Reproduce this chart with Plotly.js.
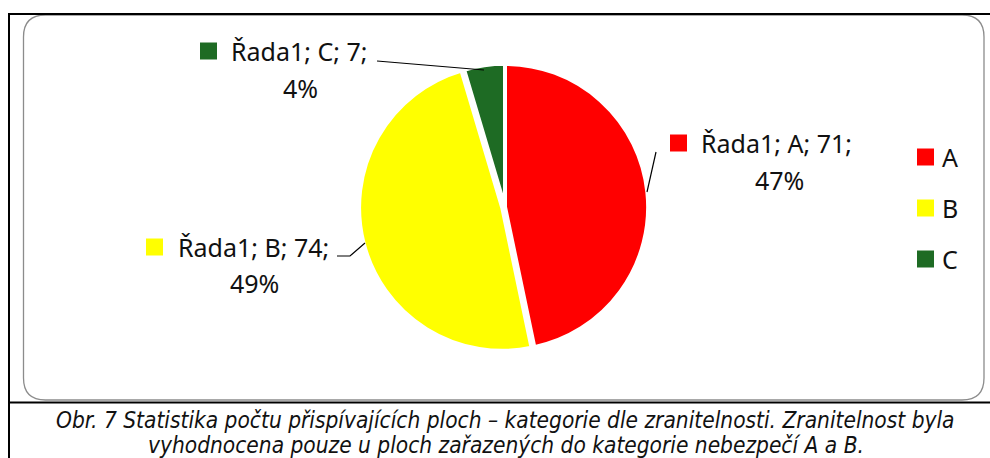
<!DOCTYPE html>
<html>
<head>
<meta charset="utf-8">
<script src="https://cdn.plot.ly/plotly-3.0.1.min.js"></script>
<style>html,body{margin:0;padding:0;background:#fff;}#chart{width:990px;height:458px;}</style>
</head>
<body>
<div id="chart"></div>
<script>
// ---- data ----
const seriesName = 'Řada1';
const categories = ['A', 'B', 'C'];
const values = [71, 74, 7];
const percentLabels = ['47%', '49%', '4%'];
const sliceColors = ['#FF0000', '#FFFF00', '#1E6B24'];
const captionLines = [
  'Obr. 7 Statistika počtu přispívajících ploch – kategorie dle zranitelnosti. Zranitelnost byla',
  'vyhodnocena pouze u ploch zařazených do kategorie nebezpečí A a B.'
];

// ---- layout helpers (pixel -> paper) ----
const W = 990, H = 458;
const px = x => x / W;
const py = y => 1 - y / H;

const labelFont = {family: '"Noto Sans", "Open Sans", sans-serif', size: 25, color: '#111'};
const captionFont = {family: '"Liberation Sans Narrow", "DejaVu Sans Condensed", "Roboto Condensed", "Liberation Sans", sans-serif', size: 22.5, color: '#111'};

// label placement (pixel positions of the data-label boxes)
const labelPos = [
  {sq: 670, text: 699, y1: 143, y2: 180, cx: 779},  // A
  {sq: 146, text: 176, y1: 247, y2: 283, cx: 254},  // B
  {sq: 200, text: 229, y1: 51,  y2: 88,  cx: 300}   // C
];
const legendPos = {sq: 917, text: 940, y: [157, 208, 259]};

const annotations = [];
const shapes = [];

categories.forEach((c, i) => {
  const p = labelPos[i];
  annotations.push({xref: 'paper', yref: 'paper', x: px(p.text), y: py(p.y1), xanchor: 'left', yanchor: 'middle',
    text: seriesName + '; ' + c + '; ' + values[i] + ';', showarrow: false, font: labelFont});
  annotations.push({xref: 'paper', yref: 'paper', x: px(p.cx), y: py(p.y2), xanchor: 'center', yanchor: 'middle',
    text: percentLabels[i], showarrow: false, font: labelFont});
  shapes.push({type: 'rect', xref: 'paper', yref: 'paper', x0: px(p.sq), x1: px(p.sq + 17), y0: py(p.y1 - 8.5), y1: py(p.y1 + 8.5),
    fillcolor: sliceColors[i], line: {width: 0}});
  // legend
  const ly = legendPos.y[i];
  shapes.push({type: 'rect', xref: 'paper', yref: 'paper', x0: px(legendPos.sq), x1: px(legendPos.sq + 17), y0: py(ly - 8.5), y1: py(ly + 8.5),
    fillcolor: sliceColors[i], line: {width: 0}});
  annotations.push({xref: 'paper', yref: 'paper', x: px(legendPos.text), y: py(ly), xanchor: 'left', yanchor: 'middle',
    text: c, showarrow: false, font: labelFont});
});

// leader lines
const leader = (pts) => {
  let d = 'M ' + px(pts[0][0]) + ',' + py(pts[0][1]);
  for (let k = 1; k < pts.length; k++) d += ' L ' + px(pts[k][0]) + ',' + py(pts[k][1]);
  shapes.push({type: 'path', xref: 'paper', yref: 'paper', path: d, line: {color: '#000', width: 1.2}});
};
leader([[656, 152], [647, 192]]);
leader([[337, 256], [350, 256], [365, 243]]);
leader([[377, 61], [484, 70]]);

// rounded chart-area frame
(function () {
  const x0 = 23.5, x1 = 984, y0 = 15, y1 = 400, r = 22;
  const P = (x, y) => px(x) + ',' + py(y);
  const d = 'M ' + P(x0 + r, y0) + ' L ' + P(x1 - r, y0) + ' Q ' + P(x1, y0) + ' ' + P(x1, y0 + r) +
    ' L ' + P(x1, y1 - r) + ' Q ' + P(x1, y1) + ' ' + P(x1 - r, y1) +
    ' L ' + P(x0 + r, y1) + ' Q ' + P(x0, y1) + ' ' + P(x0, y1 - r) +
    ' L ' + P(x0, y0 + r) + ' Q ' + P(x0, y0) + ' ' + P(x0 + r, y0) + ' Z';
  shapes.push({type: 'path', xref: 'paper', yref: 'paper', path: d, line: {color: '#8C8C8C', width: 1.3}, layer: 'below'});
})();

// outer black frame
shapes.push({type: 'line', xref: 'paper', yref: 'paper', x0: px(9), x1: px(9), y0: py(13), y1: py(458), line: {color: '#000', width: 2}});
shapes.push({type: 'line', xref: 'paper', yref: 'paper', x0: px(8), x1: px(990), y0: py(14), y1: py(14), line: {color: '#000', width: 2}});
shapes.push({type: 'line', xref: 'paper', yref: 'paper', x0: px(8), x1: px(990), y0: py(402.5), y1: py(402.5), line: {color: '#000', width: 2}});

// caption
captionLines.forEach((t, i) => {
  annotations.push({xref: 'paper', yref: 'paper', x: px(506), y: py(i === 0 ? 420 : 445), xanchor: 'center', yanchor: 'middle',
    text: '<i>' + t + '</i>', showarrow: false, font: captionFont});
});

const trace = {
  type: 'pie',
  labels: categories,
  values: values,
  sort: false,
  direction: 'clockwise',
  rotation: 0,
  pull: [0, 0.02, 0],
  marker: {colors: sliceColors, line: {color: '#FFFFFF', width: 4}},
  textinfo: 'none',
  hoverinfo: 'label+value+percent',
  showlegend: false,
  domain: {x: [px(505 - 146), px(505 + 146)], y: [py(207 + 146), py(207 - 146)]}
};

const layout = {
  width: W, height: H,
  margin: {l: 0, r: 0, t: 0, b: 0},
  paper_bgcolor: '#FFFFFF',
  plot_bgcolor: '#FFFFFF',
  showlegend: false,
  annotations: annotations,
  shapes: shapes
};

Plotly.newPlot('chart', [trace], layout, {displayModeBar: false, staticPlot: true});
</script>
</body>
</html>
